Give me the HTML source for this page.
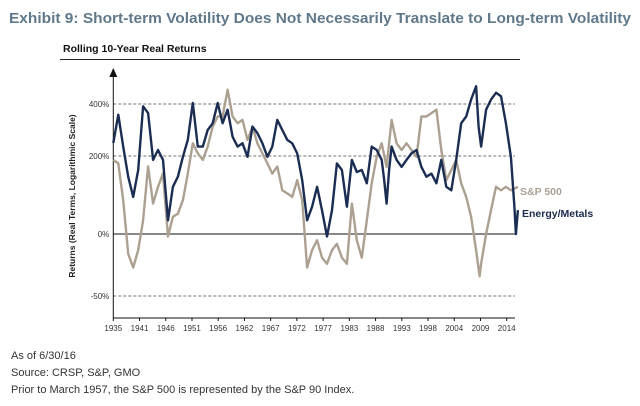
<!DOCTYPE html>
<html><head><meta charset="utf-8"><style>
body{margin:0;background:#fff;width:640px;height:406px;overflow:hidden;font-family:"Liberation Sans",sans-serif}
</style></head><body>
<svg width="640" height="406" style="position:absolute;left:0;top:0">
<text x="9" y="23" font-size="14.5" font-weight="bold" fill="#60798a" textLength="622" lengthAdjust="spacingAndGlyphs">Exhibit 9: Short-term Volatility Does Not Necessarily Translate to Long-term Volatility</text>
<text x="63" y="52" font-size="10.5" font-weight="bold" fill="#111">Rolling 10-Year Real Returns</text>
<line x1="60" y1="59.5" x2="520" y2="59.5" stroke="#222" stroke-width="1"/>
<g id="grid"></g>
<g id="axes"></g>
<g id="series"></g>
<text transform="translate(75,196) rotate(-90)" text-anchor="middle" font-size="8.5" font-weight="bold" fill="#222">Returns (Real Terms, Logarithmic Scale)</text>
<text x="520" y="195" font-size="10.5" font-weight="bold" fill="#aaa093">S&amp;P 500</text>
<text x="522" y="217" font-size="10.5" font-weight="bold" fill="#1a2b4c">Energy/Metals</text>
<text x="11" y="359" font-size="11" fill="#333">As of 6/30/16</text>
<text x="11" y="376" font-size="11" fill="#333">Source: CRSP, S&amp;P, GMO</text>
<text x="11" y="393" font-size="11" fill="#333">Prior to March 1957, the S&amp;P 500 is represented by the S&amp;P 90 Index.</text>
</svg>
<script>
const yTicks=[-50,0,200,400];
const yTickLabels=["-50%","0%","200%","400%"];
const xTickLabels=["1935","1941","1946","1951","1956","1962","1967","1972","1977","1983","1988","1993","1998","2004","2009","2014"];
const energyYears=[1935,1936,1937,1938,1939,1940,1941,1942,1943,1944,1945,1946,1947,1948,1949,1950,1951,1952,1953,1954,1955,1956,1957,1958,1959,1960,1961,1962,1963,1964,1965,1966,1967,1968,1969,1970,1971,1972,1973,1974,1975,1976,1977,1978,1979,1980,1981,1982,1983,1984,1985,1986,1987,1988,1989,1989.5,1990,1990.5,1991,1992,1993,1994,1995,1996,1997,1998,1999,2000,2001,2002,2003,2004,2005,2006,2007,2008,2008.5,2009,2010,2011,2012,2013,2014,2015,2015.7,2016,2016.4];
const energyValues=[250,359,236,147,95,164,391,365,190,223,190,35,121,147,198,262,404,236,236,300,326,404,326,378,274,236,249,198,313,288,249,198,236,339,300,262,249,210,138,35,70,121,61,-2,61,181,164,70,190,159,164,130,236,223,190,138,78,164,236,190,172,190,210,223,172,147,155,130,190,121,112,190,326,352,417,468,313,236,378,417,443,430,326,198,70,0,61];
const spYears=[1935,1936,1937,1938,1939,1940,1941,1942,1943,1944,1945,1946,1947,1948,1949,1950,1951,1952,1953,1954,1955,1956,1957,1958,1959,1960,1961,1962,1963,1964,1965,1966,1967,1968,1969,1970,1971,1972,1973,1974,1975,1976,1977,1978,1979,1980,1981,1982,1983,1984,1985,1986,1987,1988,1989,1990,1991,1992,1993,1994,1995,1996,1997,1998,1999,2000,2001,2002,2003,2004,2005,2006,2007,2008,2008.7,2009,2010,2011,2012,2013,2014,2015,2016.4];
const spValues=[190,181,87,-16,-27,-13,35,173,78,121,155,-2,44,52,87,155,249,210,190,236,313,352,352,455,352,326,339,262,313,249,210,181,155,173,112,104,95,138,87,-27,-13,-5,-19,-24,-13,-8,-19,-24,78,-5,-19,35,130,198,249,172,339,249,223,249,223,198,352,352,365,378,223,138,164,190,130,95,44,-13,-34,-24,0,61,121,112,121,112,121];

const NS="http://www.w3.org/2000/svg";
const X0=113.3, PX_PER_YEAR=4.97;
function xScale(yr){return X0+(yr-1935)*PX_PER_YEAR;}
const tickPx=[296,234,156,104];
function yScale(v){
  let i=0;
  if(v>=yTicks[yTicks.length-1]) i=yTicks.length-2;
  else if(v<yTicks[0]) i=0;
  else {for(let k=0;k<yTicks.length-1;k++){if(v>=yTicks[k]&&v<=yTicks[k+1]){i=k;break;}}}
  const t=(v-yTicks[i])/(yTicks[i+1]-yTicks[i]);
  return tickPx[i]+t*(tickPx[i+1]-tickPx[i]);
}
function mk(tag,attrs,parent){const e=document.createElementNS(NS,tag);for(const k in attrs)e.setAttribute(k,attrs[k]);parent.appendChild(e);return e;}
const grid=document.getElementById('grid'),axes=document.getElementById('axes'),series=document.getElementById('series');
const XR=515;
yTicks.forEach((v,i)=>{
  const y=yScale(v);
  const l=mk('line',{x1:X0,x2:XR,y1:y,y2:y,stroke:v===0?'#111':'#444','stroke-width':v===0?1:0.8,'stroke-dasharray':v===0?'none':'3,2'},grid);
  
  
  const t=mk('text',{x:X0-4,y:y+3,'text-anchor':'end','font-size':8,fill:'#333'},axes);
  t.textContent=yTickLabels[i];
  
  
});
const ya=mk('line',{x1:X0,x2:X0,y1:76,y2:318,stroke:'#111','stroke-width':1},axes);


const ar=mk('polygon',{points:`${X0-4},77 ${X0+4},77 ${X0},68`,fill:'#111'},axes);


const xa=mk('line',{x1:X0,x2:XR,y1:318,y2:318,stroke:'#111','stroke-width':1},axes);


const step=(506.7-X0)/(xTickLabels.length-1);
xTickLabels.forEach((lab,i)=>{
  const x=X0+i*step;
  const tk=mk('line',{x1:x,x2:x,y1:318,y2:321,stroke:'#111'},axes);
  
  
  const t=mk('text',{x:x,y:331,'text-anchor':'middle','font-size':8,fill:'#333'},axes);
  t.textContent=lab;
  
  
});
function path(yrs,vals){return yrs.map((yr,i)=>(i?'L':'M')+xScale(yr).toFixed(1)+','+yScale(vals[i]).toFixed(1)).join('');}
const sp=mk('path',{d:path(spYears,spValues),fill:'none',stroke:'#aca191','stroke-width':2.4,'stroke-linejoin':'round'},series);


const en=mk('path',{d:path(energyYears,energyValues),fill:'none',stroke:'#1b2d52','stroke-width':2.4,'stroke-linejoin':'round'},series);


</script>
</body></html>
